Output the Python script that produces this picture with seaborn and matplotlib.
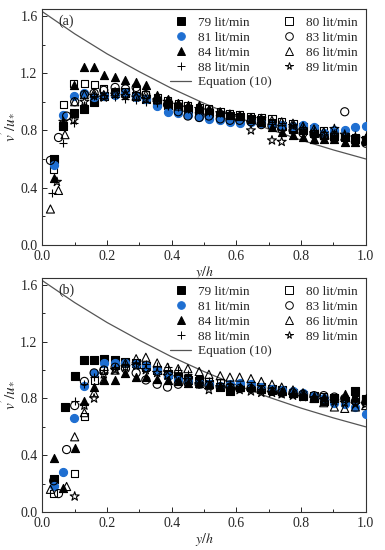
import numpy as np
import pandas as pd
import seaborn as sns
import matplotlib.pyplot as plt
from matplotlib.lines import Line2D
from matplotlib.ticker import MultipleLocator

sns.set_style('ticks')
plt.rcParams['font.family'] = ['Liberation Serif', 'DejaVu Serif']
plt.rcParams['mathtext.fontset'] = 'stix'

# common y/h positions away from the wall
tail_x = [0.13, 0.16, 0.19, 0.225, 0.257, 0.29, 0.32, 0.355, 0.387, 0.42,
          0.45, 0.485, 0.515, 0.55, 0.58, 0.61, 0.645, 0.677, 0.71, 0.74,
          0.775, 0.806, 0.84, 0.87, 0.903, 0.935, 0.968, 1.0]

labels = ['79 lit/min', '80 lit/min', '81 lit/min', '83 lit/min',
          '84 lit/min', '86 lit/min', '88 lit/min', '89 lit/min']

# panel (a): near-wall points and the tail values
a_head_x = {
    '79 lit/min': [0.035, 0.065, 0.097],
    '80 lit/min': [0.035, 0.065, 0.097],
    '81 lit/min': [0.035, 0.065, 0.097],
    '83 lit/min': [0.025, 0.05, 0.075, 0.1],
    '84 lit/min': [0.035, 0.065, 0.097],
    '86 lit/min': [0.025, 0.05, 0.07, 0.1],
    '88 lit/min': [0.03, 0.065, 0.097],
    '89 lit/min': [0.045, 0.065, 0.097],
}
a_head_y = {
    '79 lit/min': [0.60, 0.83, 0.92],
    '80 lit/min': [0.53, 0.98, 1.13],
    '81 lit/min': [0.56, 0.91, 1.04],
    '83 lit/min': [0.59, 0.75, 0.90, 1.00],
    '84 lit/min': [0.47, 0.86, 1.12],
    '86 lit/min': [0.25, 0.38, 0.77, 1.00],
    '88 lit/min': [0.36, 0.71, 0.85],
    '89 lit/min': [0.44, 0.86, 0.87],
}
a_tail_y = {
    '79 lit/min': [0.95, 1.00, 1.04, 1.06, 1.07, 1.04, 1.02, 0.99, 0.98, 0.96,
                   0.95, 0.93, 0.92, 0.91, 0.90, 0.89, 0.88, 0.87, 0.85, 0.83,
                   0.81, 0.80, 0.78, 0.77, 0.76, 0.75, 0.74, 0.73],
    '80 lit/min': [1.13, 1.12, 1.09, 1.07, 1.06, 1.08, 1.05, 1.03, 1.01, 0.99,
                   0.97, 0.96, 0.95, 0.93, 0.92, 0.91, 0.90, 0.89, 0.88, 0.86,
                   0.85, 0.83, 0.81, 0.80, 0.78, 0.76, 0.75, 0.72],
    '81 lit/min': [1.06, 1.03, 1.04, 1.05, 1.06, 1.03, 1.02, 0.97, 0.93, 0.92,
                   0.91, 0.89, 0.88, 0.87, 0.86, 0.85, 0.86, 0.85, 0.84, 0.84,
                   0.83, 0.84, 0.82, 0.78, 0.80, 0.80, 0.82, 0.83],
    '83 lit/min': [1.05, 1.06, 1.08, 1.10, 1.09, 1.10, 1.05, 1.01, 0.98, 0.93,
                   0.90, 0.89, 0.90, 0.88, 0.87, 0.87, 0.86, 0.84, 0.83, 0.81,
                   0.80, 0.78, 0.77, 0.76, 0.74, 0.93, 0.72, 0.71],
    '84 lit/min': [1.24, 1.24, 1.19, 1.17, 1.15, 1.14, 1.12, 1.05, 1.02, 0.99,
                   0.98, 0.98, 0.95, 0.93, 0.91, 0.90, 0.88, 0.86, 0.82, 0.79,
                   0.77, 0.75, 0.74, 0.74, 0.74, 0.72, 0.72, 0.73],
    '86 lit/min': [1.05, 1.06, 1.05, 1.07, 1.06, 1.04, 1.05, 1.03, 1.00, 0.97,
                   0.96, 0.95, 0.94, 0.93, 0.91, 0.90, 0.89, 0.88, 0.87, 0.86,
                   0.85, 0.83, 0.81, 0.79, 0.77, 0.76, 0.75, 0.74],
    '88 lit/min': [0.98, 1.04, 1.05, 1.03, 1.02, 1.01, 1.00, 0.99, 0.97, 0.96,
                   0.95, 0.94, 0.93, 0.92, 0.91, 0.90, 0.89, 0.88, 0.86, 0.85,
                   0.84, 0.82, 0.80, 0.79, 0.78, 0.77, 0.77, 0.76],
    '89 lit/min': [1.00, 1.04, 1.03, 1.05, 1.04, 1.03, 1.02, 1.01, 1.00, 0.98,
                   0.96, 0.95, 0.94, 0.92, 0.91, 0.90, 0.80, 0.88, 0.73, 0.72,
                   0.83, 0.80, 0.78, 0.76, 0.81, 0.77, 0.75, 0.74],
}

# panel (b)
b_head_x = {
    '79 lit/min': [0.035, 0.07, 0.1],
    '80 lit/min': [0.035, 0.1],
    '81 lit/min': [0.035, 0.065, 0.097],
    '83 lit/min': [0.035, 0.05, 0.075, 0.1],
    '84 lit/min': [0.035, 0.065, 0.1],
    '86 lit/min': [0.025, 0.075, 0.1],
    '88 lit/min': [0.1],
    '89 lit/min': [0.1],
}
b_head_y = {
    '79 lit/min': [0.23, 0.74, 0.96],
    '80 lit/min': [0.13, 0.27],
    '81 lit/min': [0.18, 0.28, 0.66],
    '83 lit/min': [0.22, 0.13, 0.44, 0.75],
    '84 lit/min': [0.38, 0.17, 0.45],
    '86 lit/min': [0.16, 0.18, 0.53],
    '88 lit/min': [0.78],
    '89 lit/min': [0.11],
}
b_tail_y = {
    '79 lit/min': [1.07, 1.07, 1.08, 1.07, 1.06, 1.05, 1.03, 1.00, 0.97, 0.95,
                   0.93, 0.92, 0.90, 0.88, 0.85, 0.88, 0.89, 0.88, 0.87, 0.86,
                   0.84, 0.82, 0.80, 0.78, 0.80, 0.78, 0.85, 0.79],
    '80 lit/min': [0.67, 0.93, 1.00, 1.03, 1.05, 1.04, 1.02, 1.00, 0.97, 0.95,
                   0.94, 0.93, 0.92, 0.91, 0.90, 0.89, 0.88, 0.87, 0.86, 0.85,
                   0.84, 0.83, 0.82, 0.81, 0.80, 0.79, 0.79, 0.80],
    '81 lit/min': [0.89, 0.98, 1.05, 1.05, 1.05, 1.04, 1.03, 1.00, 0.96, 0.93,
                   0.92, 0.91, 0.90, 0.89, 0.90, 0.91, 0.90, 0.88, 0.87, 0.86,
                   0.85, 0.84, 0.82, 0.80, 0.77, 0.76, 0.74, 0.69],
    '83 lit/min': [0.92, 0.98, 1.00, 1.02, 1.01, 0.98, 0.93, 0.90, 0.88, 0.90,
                   0.91, 0.90, 0.89, 0.88, 0.88, 0.87, 0.87, 0.86, 0.85, 0.84,
                   0.84, 0.83, 0.82, 0.82, 0.81, 0.80, 0.78, 0.77],
    '84 lit/min': [0.78, 0.88, 0.93, 0.93, 0.98, 0.95, 0.95, 0.94, 0.93, 0.92,
                   0.91, 0.91, 0.90, 0.89, 0.89, 0.88, 0.88, 0.87, 0.86, 0.85,
                   0.84, 0.83, 0.82, 0.81, 0.80, 0.83, 0.81, 0.80],
    '86 lit/min': [0.70, 0.84, 0.93, 1.00, 1.05, 1.08, 1.09, 1.05, 1.02, 1.01,
                   1.01, 0.99, 0.97, 0.96, 0.95, 0.95, 0.94, 0.92, 0.90, 0.88,
                   0.86, 0.84, 0.80, 0.77, 0.74, 0.73, 0.74, 0.75],
    '88 lit/min': [0.90, 0.95, 1.00, 1.02, 1.04, 1.05, 1.04, 1.03, 1.02, 1.00,
                   0.97, 0.94, 0.92, 0.91, 0.90, 0.89, 0.88, 0.87, 0.85, 0.84,
                   0.84, 0.83, 0.82, 0.81, 0.80, 0.79, 0.78, 0.78],
    '89 lit/min': [0.75, 0.80, 0.97, 1.00, 1.02, 1.03, 1.00, 0.98, 0.96, 0.95,
                   0.93, 0.90, 0.86, 0.88, 0.87, 0.86, 0.85, 0.84, 0.84, 0.83,
                   0.82, 0.81, 0.80, 0.79, 0.78, 0.77, 0.76, 0.76],
}

# Equation (10) curve
eq_x = [0.0, 0.1, 0.2, 0.3, 0.4, 0.5, 0.6, 0.7, 0.8, 0.9, 1.0]
eq_y = [1.63, 1.475, 1.335, 1.21, 1.093, 0.989, 0.895, 0.809, 0.732, 0.663, 0.60]

BLUE = '#1f6fd1'
styles = {
    '79 lit/min': dict(marker='s', fc='black', ec='black'),
    '80 lit/min': dict(marker='s', fc='none', ec='black'),
    '81 lit/min': dict(marker='o', fc=BLUE, ec=BLUE),
    '83 lit/min': dict(marker='o', fc='none', ec='black'),
    '84 lit/min': dict(marker='^', fc='black', ec='black'),
    '86 lit/min': dict(marker='^', fc='none', ec='black'),
    '88 lit/min': dict(marker='+', fc='black', ec='black'),
    '89 lit/min': dict(marker='*', fc='none', ec='black'),
}
sizes = {'s': 26, 'o': 34, '^': 34, '+': 40, '*': 46}


def build_frame(head_x, head_y, tail_y):
    rows = []
    for lab in labels:
        xs = list(head_x[lab]) + tail_x
        ys = list(head_y[lab]) + tail_y[lab]
        rows.append(pd.DataFrame({'y/h': xs, 'v': ys, 'rate': lab}))
    return pd.concat(rows, ignore_index=True)


def draw_panel(ax, df, tag):
    sns.lineplot(x=eq_x, y=eq_y, ax=ax, color='#555555', lw=0.9, zorder=1)
    for lab in labels:
        st = styles[lab]
        sub = df[df['rate'] == lab]
        if st['marker'] == '+':
            sns.scatterplot(data=sub, x='y/h', y='v', ax=ax, marker='+',
                            color='black', s=sizes['+'], linewidth=0.8, zorder=3)
        else:
            sns.scatterplot(data=sub, x='y/h', y='v', ax=ax, marker=st['marker'],
                            facecolor=st['fc'], edgecolor=st['ec'],
                            s=sizes[st['marker']], linewidth=0.8, zorder=3)
    ax.set_xlim(0, 1.0)
    ax.set_ylim(0, 1.65)
    ax.xaxis.set_major_locator(MultipleLocator(0.2))
    ax.xaxis.set_minor_locator(MultipleLocator(0.1))
    ax.yaxis.set_major_locator(MultipleLocator(0.4))
    ax.yaxis.set_minor_locator(MultipleLocator(0.2))
    ax.xaxis.set_major_formatter(lambda v, p: f'{v:.1f}')
    ax.yaxis.set_major_formatter(lambda v, p: f'{v:.1f}')
    ax.tick_params(which='both', direction='in', top=False, right=False,
                   labelsize=10, width=0.7)
    ax.tick_params(which='major', length=3.5)
    ax.tick_params(which='minor', length=2)
    for sp in ax.spines.values():
        sp.set_linewidth(0.8)
        sp.set_color('#333333')
    ax.set_xlabel('$y/h$', fontsize=10, labelpad=1)
    ax.set_ylabel("$v^{'}/u_{*}$", fontsize=11, labelpad=2)
    ax.text(0.05, 0.975, tag, transform=ax.transAxes, fontsize=10, va='top')

    handles = []
    order = ['79 lit/min', '81 lit/min', '84 lit/min', '88 lit/min', None,
             '80 lit/min', '83 lit/min', '86 lit/min', '89 lit/min']
    names = []
    for lab in order:
        if lab is None:
            handles.append(Line2D([], [], color='#555555', lw=0.9))
            names.append('Equation (10)')
            continue
        st = styles[lab]
        if st['marker'] == '+':
            h = Line2D([], [], ls='none', marker='+', color='black', ms=6, mew=0.7)
        else:
            h = Line2D([], [], ls='none', marker=st['marker'], mfc=st['fc'],
                       mec=st['ec'], ms=5.5, mew=0.7)
        handles.append(h)
        names.append(lab)
    ax.legend(handles, names, ncol=2, loc='upper right', frameon=False,
              fontsize=9.5, handlelength=1.6, handletextpad=0.5,
              columnspacing=0.5, labelspacing=0.2, borderaxespad=0.2,
              bbox_to_anchor=(1.0, 1.0))


fig = plt.figure(figsize=(3.85, 5.5), dpi=100)
ax1 = fig.add_axes([0.11, 0.555, 0.84, 0.429])
ax2 = fig.add_axes([0.11, 0.069, 0.84, 0.426])

draw_panel(ax1, build_frame(a_head_x, a_head_y, a_tail_y), '(a)')
draw_panel(ax2, build_frame(b_head_x, b_head_y, b_tail_y), '(b)')

fig.savefig('out.png', dpi=100)
